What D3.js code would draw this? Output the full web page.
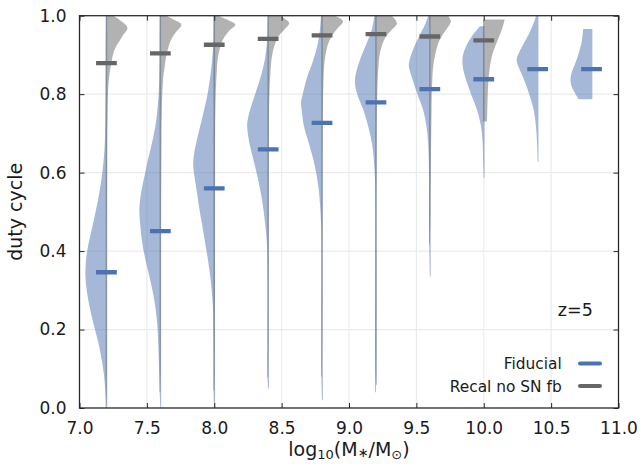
<!DOCTYPE html>
<html>
<head>
<meta charset="utf-8">
<script src="https://cdn.jsdelivr.net/npm/d3@7"></script>
<style>
  body { margin: 0; background: #fff; }
  svg { display: block; font-family: "DejaVu Sans", sans-serif; }
</style>
</head>
<body>
<svg id="chart" width="643" height="464"></svg>
<script>
// stellar mass bins (log10 M*/Msun)
const stellarMass = [7.2, 7.6, 8.0, 8.4, 8.8, 9.2, 9.6, 10.0, 10.4, 10.8];

// medians of the duty cycle per bin
const fiducialMedian = [0.346, 0.451, 0.560, 0.659, 0.727, 0.779, 0.813, 0.838, 0.864, 0.864];
const recalMedian = [0.879, 0.904, 0.926, 0.941, 0.950, 0.953, 0.947, 0.937, null, null];

// violin outlines: [duty cycle, relative density]
const fiducialShape = [
  [[0.0, 0], [0.04, 0.05], [0.08, 0.11], [0.122, 0.22], [0.165, 0.38], [0.207, 0.58], [0.25, 0.77], [0.293, 0.92], [0.335, 1.0], [0.378, 0.97], [0.42, 0.85], [0.462, 0.67], [0.505, 0.5], [0.548, 0.34], [0.59, 0.22], [0.633, 0.13], [0.675, 0.08], [0.76, 0.05], [0.9, 0.03], [1.0, 0.02]],
  [[0.0, 0], [0.04, 0.03], [0.08, 0.05], [0.165, 0.1], [0.207, 0.14], [0.25, 0.22], [0.293, 0.35], [0.335, 0.52], [0.378, 0.71], [0.42, 0.86], [0.462, 0.95], [0.505, 1.0], [0.548, 0.92], [0.59, 0.76], [0.633, 0.59], [0.675, 0.4], [0.718, 0.24], [0.76, 0.14], [0.80, 0.08], [0.845, 0.05], [0.93, 0.03], [1.0, 0.02]],
  [[0.0, 0], [0.045, 0.03], [0.165, 0.04], [0.25, 0.06], [0.293, 0.11], [0.335, 0.19], [0.378, 0.3], [0.42, 0.43], [0.462, 0.56], [0.505, 0.7], [0.548, 0.82], [0.59, 0.94], [0.62, 1.0], [0.65, 0.95], [0.675, 0.86], [0.718, 0.67], [0.76, 0.48], [0.80, 0.32], [0.845, 0.19], [0.888, 0.1], [0.93, 0.04], [1.0, 0.02]],
  [[0.05, 0], [0.078, 0.03], [0.165, 0.03], [0.335, 0.03], [0.42, 0.06], [0.462, 0.13], [0.505, 0.22], [0.548, 0.35], [0.59, 0.51], [0.633, 0.7], [0.675, 0.89], [0.701, 0.97], [0.72, 1.0], [0.735, 0.97], [0.76, 0.86], [0.80, 0.62], [0.845, 0.35], [0.888, 0.16], [0.93, 0.06], [0.964, 0.03], [1.0, 0.02]],
  [[0.02, 0], [0.078, 0.03], [0.42, 0.03], [0.462, 0.04], [0.505, 0.08], [0.548, 0.14], [0.59, 0.25], [0.633, 0.41], [0.675, 0.63], [0.718, 0.86], [0.76, 0.97], [0.78, 1.0], [0.80, 0.92], [0.845, 0.7], [0.888, 0.41], [0.93, 0.2], [0.964, 0.1], [1.0, 0.05]],
  [[0.059, 0], [0.1, 0.03], [0.505, 0.03], [0.59, 0.05], [0.633, 0.1], [0.675, 0.19], [0.718, 0.37], [0.76, 0.6], [0.80, 0.89], [0.835, 1.0], [0.888, 0.76], [0.93, 0.44], [0.964, 0.2], [0.99, 0.1], [1.0, 0.07]],
  [[0.335, 0], [0.42, 0.03], [0.6, 0.04], [0.633, 0.05], [0.675, 0.08], [0.718, 0.16], [0.76, 0.32], [0.80, 0.59], [0.845, 0.87], [0.871, 1.0], [0.888, 0.96], [0.913, 0.8], [0.93, 0.67], [0.956, 0.43], [0.981, 0.2], [1.0, 0.08]],
  [[0.586, 0], [0.633, 0.03], [0.675, 0.05], [0.718, 0.13], [0.76, 0.32], [0.80, 0.6], [0.845, 0.89], [0.871, 1.0], [0.896, 1.0], [0.922, 0.84], [0.947, 0.57], [0.964, 0.32], [0.973, 0.18]],
  [[0.628, 0], [0.675, 0.03], [0.718, 0.08], [0.76, 0.19], [0.80, 0.4], [0.845, 0.71], [0.871, 0.92], [0.888, 1.0], [0.913, 0.82], [0.939, 0.56], [0.964, 0.32], [0.99, 0.13], [1.0, 0.08]],
  [[0.787, 0.62], [0.799, 0.75], [0.82, 0.95], [0.837, 1.0], [0.854, 0.95], [0.888, 0.71], [0.93, 0.48], [0.966, 0.4]],
];
const recalShape = [
  [[0.0, 0], [0.1, 0.02], [0.3, 0.02], [0.6, 0.03], [0.75, 0.05], [0.83, 0.1], [0.867, 0.19], [0.888, 0.26], [0.913, 0.38], [0.93, 0.55], [0.947, 0.75], [0.969, 1.0], [0.986, 0.71], [1.0, 0.33]],
  [[0.04, 0], [0.1, 0.02], [0.4, 0.03], [0.675, 0.05], [0.76, 0.07], [0.845, 0.14], [0.867, 0.2], [0.888, 0.25], [0.913, 0.35], [0.939, 0.51], [0.956, 0.71], [0.977, 1.0], [0.99, 0.63], [1.0, 0.3]],
  [[0.045, 0], [0.1, 0.02], [0.5, 0.03], [0.7, 0.04], [0.8, 0.07], [0.867, 0.13], [0.888, 0.16], [0.913, 0.25], [0.939, 0.41], [0.96, 0.68], [0.977, 1.0], [0.99, 0.6], [1.0, 0.2]],
  [[0.078, 0], [0.2, 0.02], [0.6, 0.03], [0.8, 0.06], [0.871, 0.13], [0.896, 0.18], [0.922, 0.29], [0.947, 0.49], [0.964, 0.76], [0.981, 1.0], [0.99, 0.85], [1.0, 0.57]],
  [[0.08, 0], [0.3, 0.02], [0.7, 0.03], [0.82, 0.06], [0.871, 0.1], [0.905, 0.18], [0.93, 0.3], [0.952, 0.51], [0.969, 0.76], [0.986, 1.0], [1.0, 0.62]],
  [[0.04, 0], [0.1, 0.02], [0.6, 0.03], [0.8, 0.06], [0.879, 0.13], [0.905, 0.19], [0.93, 0.32], [0.947, 0.48], [0.964, 0.75], [0.981, 1.0], [1.0, 0.75]],
  [[0.416, 0], [0.5, 0.03], [0.76, 0.08], [0.828, 0.11], [0.871, 0.16], [0.905, 0.27], [0.93, 0.4], [0.947, 0.56], [0.969, 0.84], [0.986, 1.0], [1.0, 0.87]],
  [[0.73, 0.16], [0.80, 0.19], [0.845, 0.24], [0.888, 0.35], [0.913, 0.48], [0.939, 0.67], [0.964, 0.86], [0.99, 1.0]],
  [],
  [],
];

const xTicks = [7.0, 7.5, 8.0, 8.5, 9.0, 9.5, 10.0, 10.5, 11.0];
const yTicks = [0.0, 0.2, 0.4, 0.6, 0.8, 1.0];
const seriesNames = ['Fiducial', 'Recal no SN fb'];
const seriesColors = ['#4c72b0', '#666666'];
const redshiftLabel = 'z=5';

const svg = d3.select('#chart');
const margin = { left: 79.5, right: 24.5, top: 15.7, bottom: 56 };
const width = 643 - margin.left - margin.right;
const height = 464 - margin.top - margin.bottom;
const maxHalfWidth = 0.156; // widest half violin, in dex
const textColor = '#1a1a1a';

const x = d3.scaleLinear().domain([7, 11]).range([0, width]);
const y = d3.scaleLinear().domain([0, 1]).range([height, 0]);

svg.append('rect').attr('width', 643).attr('height', 464).attr('fill', '#fff');

const g = svg.append('g')
  .attr('transform', `translate(${margin.left},${margin.top})`);

g.append('clipPath').attr('id', 'plotClip')
  .append('rect').attr('width', width).attr('height', height);

// grid
g.append('g').selectAll('line.gx')
  .data(xTicks)
  .enter().append('line')
  .attr('x1', d => x(d)).attr('x2', d => x(d))
  .attr('y1', 0).attr('y2', height)
  .attr('stroke', '#ebebeb').attr('stroke-width', 1.2);
g.append('g').selectAll('line.gy')
  .data(yTicks)
  .enter().append('line')
  .attr('x1', 0).attr('x2', width)
  .attr('y1', d => y(d)).attr('y2', d => y(d))
  .attr('stroke', '#ebebeb').attr('stroke-width', 1.2);

const plot = g.append('g').attr('clip-path', 'url(#plotClip)');
const overlap = 0.8; // px the halves reach past the centre line

const halfArea = (m, side) => {
  const c = x(m);
  const w = x(m + maxHalfWidth) - c;
  return d3.area()
    .curve(d3.curveCatmullRom.alpha(0.5))
    .y(d => y(d[0]))
    .x0(d => (side < 0 ? c - d[1] * w : c - overlap))
    .x1(d => (side < 0 ? c + overlap : c + d[1] * w));
};

// fiducial on the left, recal on the right
stellarMass.forEach((m, i) => {
  if (fiducialShape[i].length) {
    plot.append('path')
      .attr('d', halfArea(m, -1)(fiducialShape[i]))
      .attr('fill', seriesColors[0])
      .attr('fill-opacity', 0.5);
  }
  if (recalShape[i].length) {
    plot.append('path')
      .attr('d', halfArea(m, 1)(recalShape[i]))
      .attr('fill', seriesColors[1])
      .attr('fill-opacity', 0.5);
  }
});

// median bars
const barHalf = 0.077;
[fiducialMedian, recalMedian].forEach((meds, k) => {
  plot.append('g').selectAll('line')
    .data(stellarMass.map((m, i) => [m, meds[i]]).filter(d => d[1] !== null))
    .enter().append('line')
    .attr('x1', d => x(d[0] - barHalf))
    .attr('x2', d => x(d[0] + barHalf))
    .attr('y1', d => y(d[1]))
    .attr('y2', d => y(d[1]))
    .attr('stroke', seriesColors[k])
    .attr('stroke-width', 4.3);
});

// axes, ticks pointing inwards on all four sides
const fmt = d3.format('.1f');
const styleAxis = (sel) => {
  sel.select('.domain').remove();
  sel.selectAll('.tick line').attr('stroke', '#262626').attr('stroke-width', 1);
  sel.selectAll('.tick text').attr('fill', textColor)
    .style('font-size', '17px').style('font-family', '"DejaVu Sans", sans-serif');
};
g.append('g').attr('transform', `translate(0,${height})`)
  .call(d3.axisBottom(x).tickValues(xTicks).tickFormat(fmt).tickSizeInner(-5).tickSizeOuter(0).tickPadding(14))
  .call(styleAxis);
g.append('g')
  .call(d3.axisTop(x).tickValues(xTicks).tickFormat('').tickSizeInner(-5).tickSizeOuter(0))
  .call(styleAxis);
g.append('g')
  .call(d3.axisLeft(y).tickValues(yTicks).tickFormat(fmt).tickSizeInner(-5).tickSizeOuter(0).tickPadding(13))
  .call(styleAxis);
g.append('g').attr('transform', `translate(${width},0)`)
  .call(d3.axisRight(y).tickValues(yTicks).tickFormat('').tickSizeInner(-5).tickSizeOuter(0))
  .call(styleAxis);

g.append('rect')
  .attr('width', width).attr('height', height)
  .attr('fill', 'none').attr('stroke', '#262626').attr('stroke-width', 1.25);

// axis labels
svg.append('text')
  .attr('transform', `translate(${margin.left - 58},${margin.top + height / 2}) rotate(-90)`)
  .attr('text-anchor', 'middle')
  .attr('fill', textColor)
  .style('font-size', '19px')
  .text('duty cycle');

const xl = svg.append('text')
  .attr('x', margin.left + width / 2)
  .attr('y', 456)
  .attr('text-anchor', 'middle')
  .attr('fill', textColor)
  .style('font-size', '19px');
xl.append('tspan').text('log');
xl.append('tspan').attr('dy', 3).style('font-size', '13px').text('10');
xl.append('tspan').attr('dy', -3).text('(M');
xl.append('tspan').attr('dy', 1).style('font-size', '13px').text('∗');
xl.append('tspan').attr('dy', -1).text('/M');
xl.append('tspan').attr('dy', 3).style('font-size', '13px').text('⊙');
xl.append('tspan').attr('dy', -3).text(')');

// redshift
g.append('text')
  .attr('x', x(10.55)).attr('y', 316 - margin.top)
  .attr('fill', textColor)
  .style('font-size', '17.5px')
  .text(redshiftLabel);

// legend
const legend = g.append('g');
seriesNames.forEach((name, i) => {
  const ly = 363.5 - margin.top + i * 22.6;
  legend.append('text')
    .attr('x', 561.7 - margin.left).attr('y', ly + 5.8)
    .attr('text-anchor', 'end')
    .attr('fill', textColor)
    .style('font-size', '15.4px')
    .text(name);
  legend.append('line')
    .attr('x1', 580 - margin.left).attr('x2', 600 - margin.left)
    .attr('y1', ly).attr('y2', ly)
    .attr('stroke', seriesColors[i])
    .attr('stroke-width', 4)
    .attr('stroke-linecap', 'round');
});
</script>
</body>
</html>
